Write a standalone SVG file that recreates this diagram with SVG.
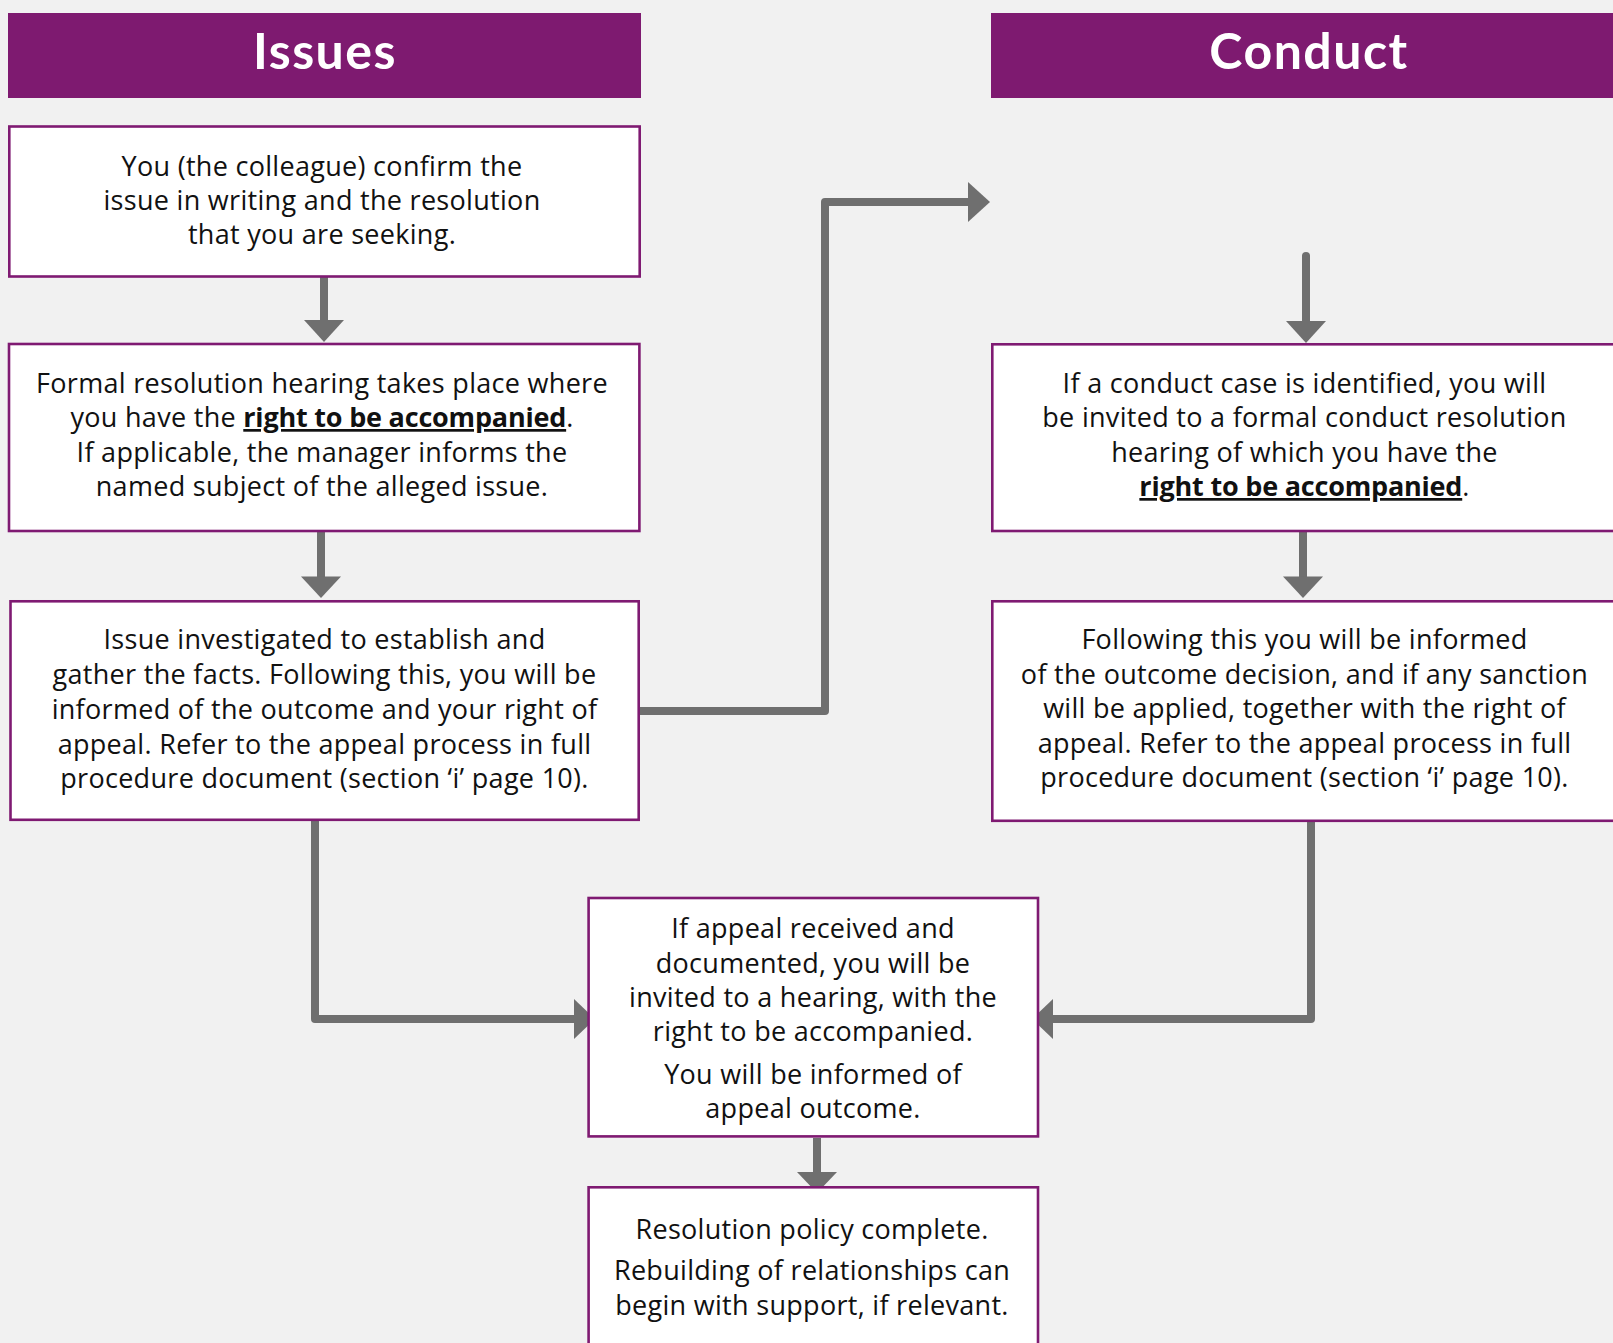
<svg xmlns="http://www.w3.org/2000/svg" width="1613" height="1343" viewBox="0 0 1613 1343">
<defs>
<style>
.hdr{fill:#7e1a70}
.hdrt{font-family:Lato,"Open Sans",sans-serif;font-weight:700;font-size:50px;letter-spacing:1.5px;fill:#ffffff;text-anchor:middle}
.box{fill:#ffffff;stroke:#7f1a72;stroke-width:2.6}
.t{font-family:"Open Sans",Lato,sans-serif;font-size:27px;letter-spacing:0.3px;fill:#111111;text-anchor:middle}
.b{font-weight:700;letter-spacing:-0.2px;text-decoration:underline}
.ln{fill:none;stroke:#6f6f6f;stroke-width:8;stroke-linejoin:round}
.ah{fill:#6f6f6f}
</style>
</defs>
<rect x="0" y="0" width="1613" height="1343" fill="#f1f1f1"/>
<g id="issues-header">
<rect class="hdr" x="8" y="13" width="633" height="85"/>
<text class="hdrt" x="325" y="69">Issues</text>
</g>
<g id="conduct-header">
<rect class="hdr" x="991" y="13" width="640" height="85"/>
<text class="hdrt" x="1309" y="69">Conduct</text>
</g>
<g id="connectors">
<line class="ln" x1="324" y1="277" x2="324" y2="321"/>
<polygon class="ah" points="304,320 344,320 324,342"/>
<line class="ln" x1="321" y1="532" x2="321" y2="577"/>
<polygon class="ah" points="301,576.5 341,576.5 321,598"/>
<path class="ln" d="M637,711 H825 V202 H969"/>
<polygon class="ah" points="968,182 968,222 990,202"/>
<line class="ln" x1="1306" y1="256" x2="1306" y2="322" stroke-linecap="round"/>
<polygon class="ah" points="1286,321 1326,321 1306,343"/>
<line class="ln" x1="1303" y1="532" x2="1303" y2="577"/>
<polygon class="ah" points="1283,576.5 1323,576.5 1303,598"/>
<path class="ln" d="M315,821 V1019 H575"/>
<polygon class="ah" points="574,999 574,1039 595,1019"/>
<path class="ln" d="M1311,822 V1019 H1052"/>
<polygon class="ah" points="1053,999 1053,1039 1032,1019"/>
<line class="ln" x1="817" y1="1138" x2="817" y2="1173"/>
<polygon class="ah" points="797,1172 837,1172 817,1193"/>
</g>
<g id="box1">
<rect class="box" x="9.3" y="126.5" width="630.4" height="150"/>
<text class="t" x="322" y="176">You (the colleague) confirm the</text>
<text class="t" x="322" y="210">issue in writing and the resolution</text>
<text class="t" x="322" y="244">that you are seeking.</text>
</g>
<g id="box2">
<rect class="box" x="9" y="344" width="630.4" height="187"/>
<text class="t" x="322" y="393">Formal resolution hearing takes place where</text>
<text class="t" x="322" y="427">you have the <tspan class="b">right to be accompanied</tspan>.</text>
<text class="t" x="322" y="461.5">If applicable, the manager informs the</text>
<text class="t" x="322" y="496">named subject of the alleged issue.</text>
</g>
<g id="box3">
<rect class="box" x="10.5" y="601.3" width="628.2" height="218.5"/>
<text class="t" x="324.5" y="649.3">Issue investigated to establish and</text>
<text class="t" x="324.5" y="684">gather the facts. Following this, you will be</text>
<text class="t" x="324.5" y="719">informed of the outcome and your right of</text>
<text class="t" x="324.5" y="753.5">appeal. Refer to the appeal process in full</text>
<text class="t" x="324.5" y="788">procedure document (section ‘i’ page 10).</text>
</g>
<g id="box4">
<rect class="box" x="992.3" y="344.3" width="640" height="186.7"/>
<text class="t" x="1304.5" y="393">If a conduct case is identified, you will</text>
<text class="t" x="1304.5" y="427">be invited to a formal conduct resolution</text>
<text class="t" x="1304.5" y="461.5">hearing of which you have the</text>
<text class="t" x="1304.5" y="496"><tspan class="b">right to be accompanied</tspan>.</text>
</g>
<g id="box5">
<rect class="box" x="992.3" y="601.3" width="640" height="219.5"/>
<text class="t" x="1304.5" y="649">Following this you will be informed</text>
<text class="t" x="1304.5" y="683.5">of the outcome decision, and if any sanction</text>
<text class="t" x="1304.5" y="718">will be applied, together with the right of</text>
<text class="t" x="1304.5" y="752.5">appeal. Refer to the appeal process in full</text>
<text class="t" x="1304.5" y="787">procedure document (section ‘i’ page 10).</text>
</g>
<g id="box6">
<rect class="box" x="588.6" y="898" width="449.4" height="238.4"/>
<text class="t" x="813" y="938">If appeal received and</text>
<text class="t" x="813" y="973">documented, you will be</text>
<text class="t" x="813" y="1007">invited to a hearing, with the</text>
<text class="t" x="813" y="1041">right to be accompanied.</text>
<text class="t" x="813" y="1084">You will be informed of</text>
<text class="t" x="813" y="1118">appeal outcome.</text>
</g>
<g id="box7">
<rect class="box" x="588.6" y="1187.3" width="449.4" height="200"/>
<text class="t" x="812" y="1239">Resolution policy complete.</text>
<text class="t" x="812" y="1280">Rebuilding of relationships can</text>
<text class="t" x="812" y="1315">begin with support, if relevant.</text>
</g>
</svg>
